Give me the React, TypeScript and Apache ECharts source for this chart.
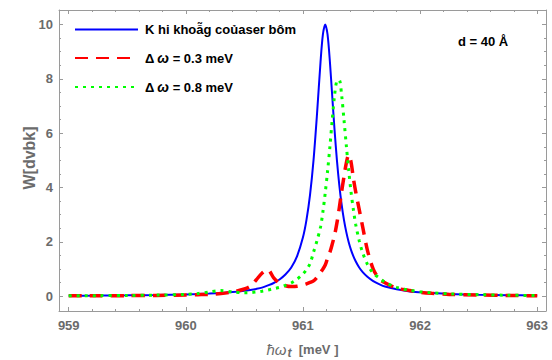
import React, { useEffect, useRef } from "react";
import * as echarts from "echarts";

// photon energy grid (meV)
const xGrid = [
  959, 959.25, 959.5, 959.75, 960, 960.1, 960.2, 960.3, 960.4, 960.5, 960.55, 960.6, 960.65, 960.7, 960.75,
  960.8, 960.85, 960.9, 960.95, 961.0, 961.03, 961.06, 961.09, 961.12, 961.15, 961.17, 961.19, 961.21, 961.23,
  961.25, 961.27, 961.29, 961.31, 961.33, 961.35, 961.37, 961.39, 961.41, 961.43, 961.45, 961.48, 961.51,
  961.55, 961.6, 961.65, 961.7, 961.8, 961.9, 962.0, 962.1, 962.25, 962.5, 962.75, 963,
];
// without pump laser
const blueW = [
  0.02, 0.026, 0.035, 0.048, 0.07, 0.083, 0.1, 0.123, 0.155, 0.2, 0.233, 0.272, 0.321, 0.4, 0.49,
  0.617, 0.8, 1.06, 1.48, 2.17, 2.81, 3.72, 5.0, 6.71, 8.62, 9.62, 10.0, 9.62, 8.62,
  7.35, 6.1, 5.0, 4.1, 3.38, 2.81, 2.36, 2.0, 1.71, 1.48, 1.29, 1.06, 0.89,
  0.72, 0.56, 0.45, 0.36, 0.26, 0.19, 0.15, 0.12, 0.087, 0.058, 0.041, 0.03,
];
// Δω = 0.3 meV
const redW = [
  0.02, 0.02, 0.025, 0.03, 0.05, 0.06, 0.07, 0.1, 0.16, 0.27, 0.37, 0.6, 0.85, 0.98, 0.68,
  0.48, 0.39, 0.36, 0.37, 0.42, 0.46, 0.51, 0.57, 0.7, 0.88, 1.0, 1.15, 1.4, 1.62,
  1.92, 2.25, 2.7, 3.25, 3.85, 4.4, 4.9, 5.2, 4.95, 4.35, 3.85, 3.2, 2.55,
  1.7, 1.0, 0.65, 0.5, 0.3, 0.22, 0.15, 0.11, 0.07, 0.05, 0.03, 0.02,
];
// Δω = 0.8 meV
const greenW = [
  0.02, 0.025, 0.03, 0.045, 0.07, 0.1, 0.16, 0.21, 0.16, 0.13, 0.135, 0.16, 0.19, 0.23, 0.28,
  0.33, 0.4, 0.49, 0.63, 0.82, 0.98, 1.2, 1.62, 2.05, 2.55, 3.1, 3.8, 4.6, 5.5,
  6.5, 7.4, 7.93, 7.95, 7.4, 6.5, 5.55, 4.65, 3.85, 3.2, 2.65, 2.05, 1.6,
  1.18, 0.85, 0.68, 0.52, 0.33, 0.23, 0.17, 0.13, 0.09, 0.06, 0.04, 0.03,
];

const seriesNames = ["K hi khoẫg coủaser bôm", "Δω = 0.3 meV", "Δω = 0.8 meV"];
const xMajor = [959, 960, 961, 962, 963];
const xMinor = [
  959.2, 959.4, 959.6, 959.8, 960.2, 960.4, 960.6, 960.8, 961.2, 961.4, 961.6, 961.8,
  962.2, 962.4, 962.6, 962.8,
];
const yMajor = [0, 2, 4, 6, 8, 10];
const yMinor = [0.5, 1, 1.5, 2.5, 3, 3.5, 4.5, 5, 5.5, 6.5, 7, 7.5, 8.5, 9, 9.5];
const annotation = "d = 40 Å";
const yTitle = "W[dvbk]";

const FONT = "'Liberation Sans', Arial, sans-serif";
const GRAY = "#6b6b6b";
const FRAME = "#9a9a9a";
const X_MIN = 958.917;
const X_MAX = 963.075;
const Y_MIN = -0.54;
const Y_MAX = 10.53;

function makeX(position: string, ticks: number[], len: number, line: boolean, labels: boolean, extra: any = {}) {
  return {
    type: "value",
    position,
    min: X_MIN,
    max: X_MAX,
    axisLine: { show: line, onZero: false, lineStyle: { color: FRAME, width: 1 } },
    axisTick: { show: true, inside: true, length: len, customValues: ticks, lineStyle: { color: FRAME, width: 1 } },
    axisLabel: labels
      ? { show: true, customValues: xMajor, color: GRAY, fontFamily: FONT, fontWeight: "bold", fontSize: 13, margin: 8 }
      : { show: false },
    splitLine: { show: false },
    ...extra,
  };
}

function makeY(position: string, ticks: number[], len: number, line: boolean, labels: boolean, extra: any = {}) {
  return {
    type: "value",
    position,
    min: Y_MIN,
    max: Y_MAX,
    axisLine: { show: line, onZero: false, lineStyle: { color: FRAME, width: 1 } },
    axisTick: { show: true, inside: true, length: len, customValues: ticks, lineStyle: { color: FRAME, width: 1 } },
    axisLabel: labels
      ? { show: true, customValues: yMajor, color: GRAY, fontFamily: FONT, fontWeight: "bold", fontSize: 13, margin: 6 }
      : { show: false },
    splitLine: { show: false },
    ...extra,
  };
}

export default function App() {
  const ref = useRef<HTMLDivElement>(null);

  useEffect(() => {
    if (!ref.current) return;
    const chart = echarts.init(ref.current, undefined, { renderer: "svg" });
    const mk = (ys: number[]) => xGrid.map((x, i) => [x, ys[i]]);
    const richBase = { fontFamily: FONT, fontWeight: "bold", fontSize: 13, color: "#000" };
    chart.setOption({
      animation: false,
      grid: { left: 59, right: 6, top: 10, bottom: 49, containLabel: false, outerBoundsMode: "none" },
      xAxis: [
        makeX("bottom", xMajor, 4, true, true, {
          name: "{i|ħω}{s|t}{b|  [meV ]}",
          nameLocation: "middle",
          nameGap: 29,
          nameTextStyle: {
            color: GRAY,
            fontFamily: FONT,
            fontSize: 13,
            rich: {
              i: { fontFamily: FONT, fontStyle: "italic", fontSize: 15, color: GRAY },
              s: { fontFamily: FONT, fontStyle: "italic", fontWeight: "bold", fontSize: 12, color: GRAY, padding: [7, 0, 0, 1] },
              b: { fontFamily: FONT, fontWeight: "bold", fontSize: 13, color: GRAY },
            },
          },
        }),
        makeX("bottom", xMinor, 2, false, false),
        makeX("top", xMajor, 4, true, false),
        makeX("top", xMinor, 2, false, false),
      ],
      yAxis: [
        makeY("left", yMajor, 4, true, true),
        makeY("left", yMinor, 2, false, false),
        makeY("right", yMajor, 4, true, false),
        makeY("right", yMinor, 2, false, false),
      ],
      legend: {
        show: true,
        orient: "vertical",
        left: 74,
        top: 23,
        padding: 0,
        itemWidth: 63,
        itemHeight: 14,
        itemGap: 15,
        itemStyle: { opacity: 0 },
        data: seriesNames,
        formatter: (name: string) =>
          name.startsWith("Δω") ? `{b|Δ}{i|ω}{b|${name.slice(2)}}` : `{b|${name}}`,
        textStyle: {
          ...richBase,
          padding: [0, 0, 0, 2],
          rich: {
            b: { ...richBase },
            i: { ...richBase, fontStyle: "italic", fontSize: 14, padding: [0, 0, 0, 3] },
          },
        },
      },
      graphic: [
        {
          type: "text",
          left: 458,
          top: 35,
          style: { text: annotation, fontFamily: FONT, fontWeight: "bold", fontSize: 13, fill: "#000" },
        },
        {
          type: "text",
          x: 29,
          y: 158,
          rotation: Math.PI / 2,
          style: {
            text: yTitle,
            fontFamily: FONT,
            fontWeight: "bold",
            fontSize: 16,
            fill: GRAY,
            align: "center",
            verticalAlign: "middle",
          },
        },
      ],
      series: [
        {
          name: seriesNames[0],
          type: "line",
          data: mk(blueW),
          symbol: "none",
          smooth: 0.3,
          color: "#0000ff",
          lineStyle: { color: "#0000ff", width: 2 },
          z: 2,
        },
        {
          name: seriesNames[1],
          type: "line",
          data: mk(redW),
          symbol: "none",
          smooth: 0.3,
          color: "#ff0000",
          lineStyle: { color: "#ff0000", width: 3.5, type: [13, 8] },
          z: 3,
        },
        {
          name: seriesNames[2],
          type: "line",
          data: mk(greenW),
          symbol: "none",
          smooth: 0.3,
          color: "#00ff00",
          lineStyle: { color: "#00ff00", width: 3, type: [3, 5] },
          z: 4,
        },
      ],
    });
    return () => chart.dispose();
  }, []);

  return <div ref={ref} style={{ position: "absolute", left: 0, top: 0, width: 552, height: 360 }} />;
}
